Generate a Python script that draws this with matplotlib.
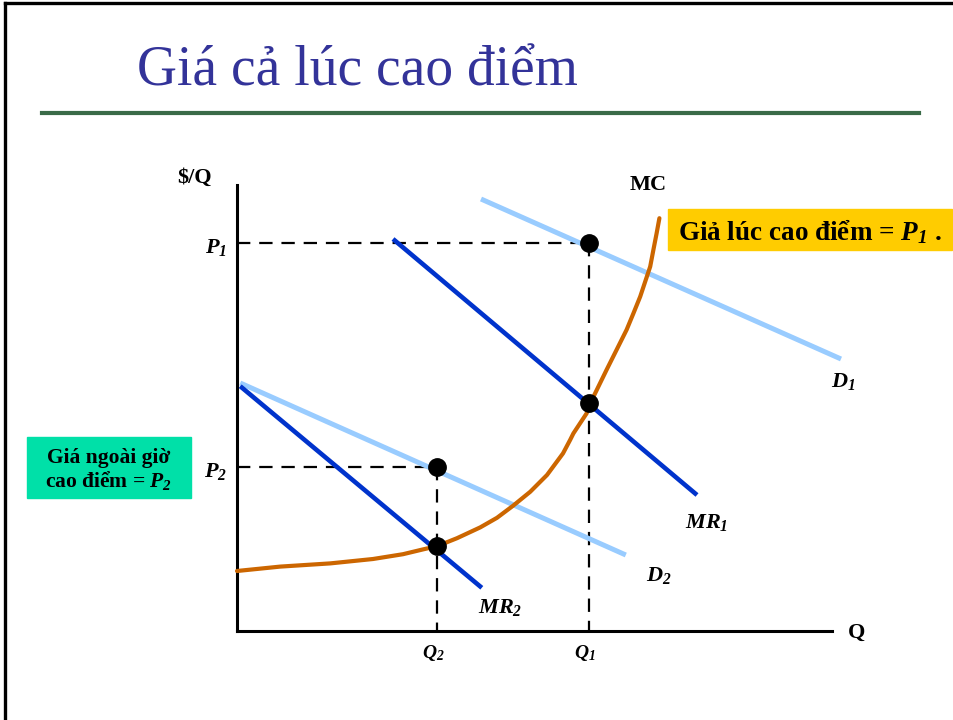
import matplotlib
matplotlib.use("Agg")
import matplotlib.pyplot as plt
from matplotlib.lines import Line2D
from matplotlib.patches import Rectangle

plt.rcParams['font.family'] = ['Liberation Serif', 'DejaVu Serif']
plt.rcParams['mathtext.fontset'] = 'custom'
plt.rcParams['mathtext.it'] = 'Liberation Serif:italic:bold'
plt.rcParams['mathtext.rm'] = 'Liberation Serif:italic:bold'
plt.rcParams['mathtext.bf'] = 'Liberation Serif:italic:bold'

# du lieu (don vi tuy y, goc toa do tai giao diem hai truc)
q_max, p_max = 14.875, 11.15
Q1, Q2 = 8.8, 5.0
P1, P2 = 9.7, 4.1

d1_q = [6.1, 15.1]
d1_p = [10.8, 6.8]
mr1_q = [3.9, 11.5]
mr1_p = [9.8, 3.4]
d2_q = [0.08, 9.72]
d2_p = [6.2, 1.9]
mr2_q = [0.08, 6.12]
mr2_p = [6.12, 1.08]

mc_q = [0.0, 1.08, 2.33, 3.4, 4.15, 4.65, 5.0, 5.5, 6.08, 6.5, 6.9, 7.33,
        7.75, 8.15, 8.33, 8.41, 8.74, 8.83, 9.24, 9.49, 9.74, 9.91, 10.08,
        10.33, 10.41, 10.49, 10.56]
mc_p = [1.5, 1.61, 1.69, 1.8, 1.92, 2.04, 2.12, 2.32, 2.59, 2.83, 3.13, 3.48,
        3.9, 4.44, 4.78, 4.94, 5.44, 5.69, 6.53, 7.03, 7.53, 7.94, 8.36,
        9.11, 9.53, 9.94, 10.32]

dot_q = [Q1, Q1, Q2, Q2]
dot_p = [P1, 5.7, P2, 2.12]

W, H = 954, 720
fig = plt.figure(figsize=(W / 100, H / 100), dpi=100)
ax = fig.add_axes([0, 0, 1, 1])
# 1 don vi = 40 px, goc tai pixel (237, 631)
ax.set_xlim(-237 / 40, (W - 237) / 40)
ax.set_ylim((631 - H) / 40, 631 / 40)
ax.set_facecolor('none')
for s in ['top', 'right']:
    ax.spines[s].set_visible(False)
ax.spines['left'].set_position(('data', 0))
ax.spines['bottom'].set_position(('data', 0))
ax.spines['left'].set_bounds(0, p_max)
ax.spines['bottom'].set_bounds(0, q_max)
ax.spines['left'].set_linewidth(2.2)
ax.spines['bottom'].set_linewidth(2.2)
ax.set_xticks([])
ax.set_yticks([])

dash = dict(color='black', lw=1.6, dashes=(6, 4), zorder=2)
ax.plot([0, Q1], [P1, P1], **dash)
ax.plot([Q1, Q1], [P1, 0], **dash)
ax.plot([0, Q2], [P2, P2], **dash)
ax.plot([Q2, Q2], [P2, 0], **dash)

light = '#99ccff'
dark = '#0033cc'
ax.plot(d1_q, d1_p, color=light, lw=3.6, solid_capstyle='butt', zorder=3)
ax.plot(d2_q, d2_p, color=light, lw=3.6, solid_capstyle='butt', zorder=3)
ax.plot(mr1_q, mr1_p, color=dark, lw=3.3, solid_capstyle='butt', zorder=4)
ax.plot(mr2_q, mr2_p, color=dark, lw=3.3, solid_capstyle='butt', zorder=4)
ax.plot(mc_q, mc_p, color='#cc6600', lw=3.0, solid_joinstyle='round',
        solid_capstyle='round', zorder=5)
ax.plot(dot_q, dot_p, 'o', color='black', ms=12.5, zorder=6)

lab = dict(fontsize=16, fontweight='bold', color='black')
ax.text(-1.05, 11.33, '$/Q', ha='center', va='center', **lab)
ax.text(-0.25, P1 - 0.1, r'$P_1$', ha='right', va='center', **lab)
ax.text(-0.25, P2 - 0.1, r'$P_2$', ha='right', va='center', **lab)
ax.text(Q2 - 0.1, -0.55, r'$Q_2$', ha='center', va='center', fontsize=14)
ax.text(Q1 - 0.1, -0.55, r'$Q_1$', ha='center', va='center', fontsize=14)
ax.text(15.5, -0.05, 'Q', ha='center', va='center', **lab)
ax.text(10.28, 11.15, 'MC', ha='center', va='center', **lab)
ax.text(15.15, 6.25, r'$D_1$', ha='center', va='center', **lab)
ax.text(11.75, 2.72, r'$MR_1$', ha='center', va='center', **lab)
ax.text(10.55, 1.38, r'$D_2$', ha='center', va='center', **lab)
ax.text(6.58, 0.58, r'$MR_2$', ha='center', va='center', **lab)

# khung slide
fig.add_artist(Line2D([5 / W, 5 / W], [0, 1 - 3 / H], color='black', lw=2.4))
fig.add_artist(Line2D([5 / W, 1], [1 - 3 / H, 1 - 3 / H], color='black', lw=2.4))
fig.add_artist(Line2D([42 / W, 919 / W], [1 - 113 / H, 1 - 113 / H], color='#3a6b48', lw=3))
fig.text(137 / W, 1 - 86 / H, 'Giá cả lúc cao điểm', fontsize=40, color='#333399',
         ha='left', va='baseline')

# hop chu thich
fig.add_artist(Rectangle((668 / W, 1 - 250 / H), 284 / W, 41 / H,
                         transform=fig.transFigure, color='#ffcc00', zorder=1))
fig.text(678 / W, 1 - 232 / H, r'Giả lúc cao điểm = $P_1$ .', fontsize=19.5,
         fontweight='bold', ha='left', va='center', zorder=2)
fig.add_artist(Rectangle((27 / W, 1 - 498 / H), 164 / W, 61 / H,
                         transform=fig.transFigure, color='#00e0a8', zorder=1))
fig.text(109 / W, 1 - 470 / H, 'Giá ngoài giờ\ncao điểm = $P_2$', fontsize=15.5,
         fontweight='bold', ha='center', va='center', linespacing=1.05, zorder=2)

fig.savefig('out.png', dpi=100)
